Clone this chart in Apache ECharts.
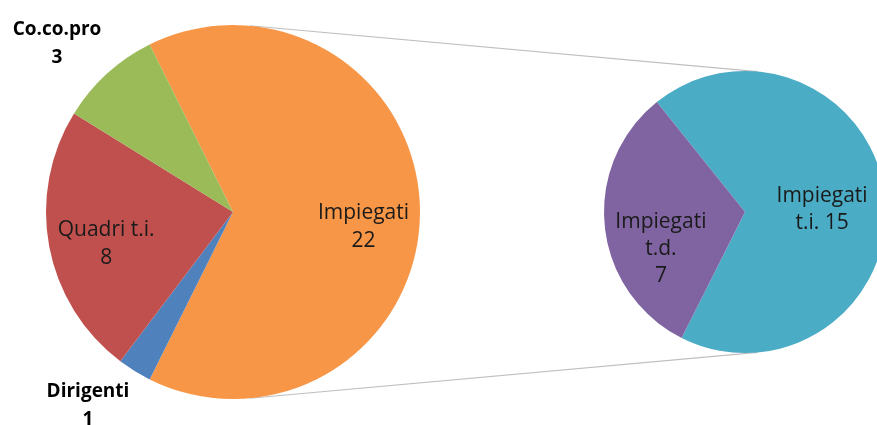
<!DOCTYPE html>
<html>
<head>
<meta charset="utf-8">
<script src="https://cdn.jsdelivr.net/npm/echarts@6/dist/echarts.min.js"></script>
<style>
  html, body { margin: 0; padding: 0; background: #fff; }
  #chart { width: 877px; height: 425px; }
</style>
</head>
<body>
<div id="chart"></div>
<script>
// main pie, in drawing order (clockwise)
var mainNames = ["Impiegati", "Dirigenti", "Quadri t.i.", "Co.co.pro"];
var mainValues = [22, 1, 8, 3];
var mainColors = ["#F79646", "#4F81BD", "#C0504D", "#9BBB59"];

// breakdown of "Impiegati"
var subNames = ["Impiegati t.i.", "Impiegati t.d."];
var subValues = [15, 7];
var subColors = ["#4BACC6", "#8064A2"];

var FONT = "'Open Sans', 'DejaVu Sans', sans-serif";
var C1 = [233, 212], R1 = 187;
var C2 = [745, 212], R2 = 141;

function sum(a) { return a.reduce(function (s, v) { return s + v; }, 0); }

// split slice centred on 3 o'clock; small sub slice a bit below 9 o'clock
var mainStart = mainValues[0] / sum(mainValues) * 180;
var subStart = 186 - subValues[1] / sum(subValues) * 180;

// label nudges (inside) and fixed spots (outside)
var nudge = {
    "Impiegati": [34, 15],
    "Quadri t.i.": [-32, 14],
    "Impiegati t.i.": [4, 5],
    "Impiegati t.d.": [-11, 29]
};
var outside = {
    "Co.co.pro": [57, 44],
    "Dirigenti": [88, 406]
};

function labelText(p) {
    if (p.name === "Impiegati t.i.") return "Impiegati\nt.i. " + p.value;
    if (p.name === "Impiegati t.d.") return "Impiegati\nt.d.\n" + p.value;
    return p.name + "\n" + p.value;
}

function makeData(names, values, colors) {
    return names.map(function (n, i) {
        var d = { name: n, value: values[i], itemStyle: { color: colors[i] } };
        if (outside[n]) {
            d.label = { position: "outside", fontWeight: "bold", color: "#000", fontSize: 19, lineHeight: 28 };
            d.labelLine = { show: false };
        }
        return d;
    });
}

function layout(p) {
    var name = p.text.split("\n")[0];
    if (outside[name]) {
        return { x: outside[name][0], y: outside[name][1], align: "center", verticalAlign: "middle" };
    }
    var key = name;
    if (p.seriesIndex === 1) key = p.dataIndex === 0 ? "Impiegati t.i." : "Impiegati t.d.";
    var n = nudge[key] || [0, 0];
    return { dx: n[0], dy: n[1] };
}

// outer tangent lines between the two pies
var sinA = (R1 - R2) / (C2[0] - C1[0]);
var cosA = Math.sqrt(1 - sinA * sinA);
function tangent(sign) {
    return {
        type: "line",
        silent: true,
        shape: {
            x1: C1[0] + R1 * sinA, y1: C1[1] + sign * R1 * cosA,
            x2: C2[0] + R2 * sinA, y2: C2[1] + sign * R2 * cosA
        },
        style: { stroke: "#BFBFBF", lineWidth: 1.2 },
        z: -1
    };
}

var chart = echarts.init(document.getElementById("chart"), null, { renderer: "canvas" });
chart.setOption({
    animation: false,
    backgroundColor: "#fff",
    graphic: [tangent(-1), tangent(1)],
    series: [
        {
            type: "pie",
            center: C1,
            radius: R1,
            startAngle: mainStart,
            clockwise: true,
            avoidLabelOverlap: false,
            label: {
                show: true, position: "inside", formatter: labelText,
                fontFamily: FONT, fontSize: 21, lineHeight: 28, color: "#1a1a1a", align: "center"
            },
            labelLayout: layout,
            itemStyle: { borderWidth: 0 },
            emphasis: { disabled: true },
            data: makeData(mainNames, mainValues, mainColors)
        },
        {
            type: "pie",
            center: C2,
            radius: R2,
            startAngle: subStart,
            clockwise: true,
            avoidLabelOverlap: false,
            label: {
                show: true, position: "inside", formatter: labelText,
                fontFamily: FONT, fontSize: 21, lineHeight: 27, color: "#1a1a1a", align: "center"
            },
            labelLayout: layout,
            itemStyle: { borderWidth: 0 },
            emphasis: { disabled: true },
            data: makeData(subNames, subValues, subColors)
        }
    ]
});
</script>
</body>
</html>
